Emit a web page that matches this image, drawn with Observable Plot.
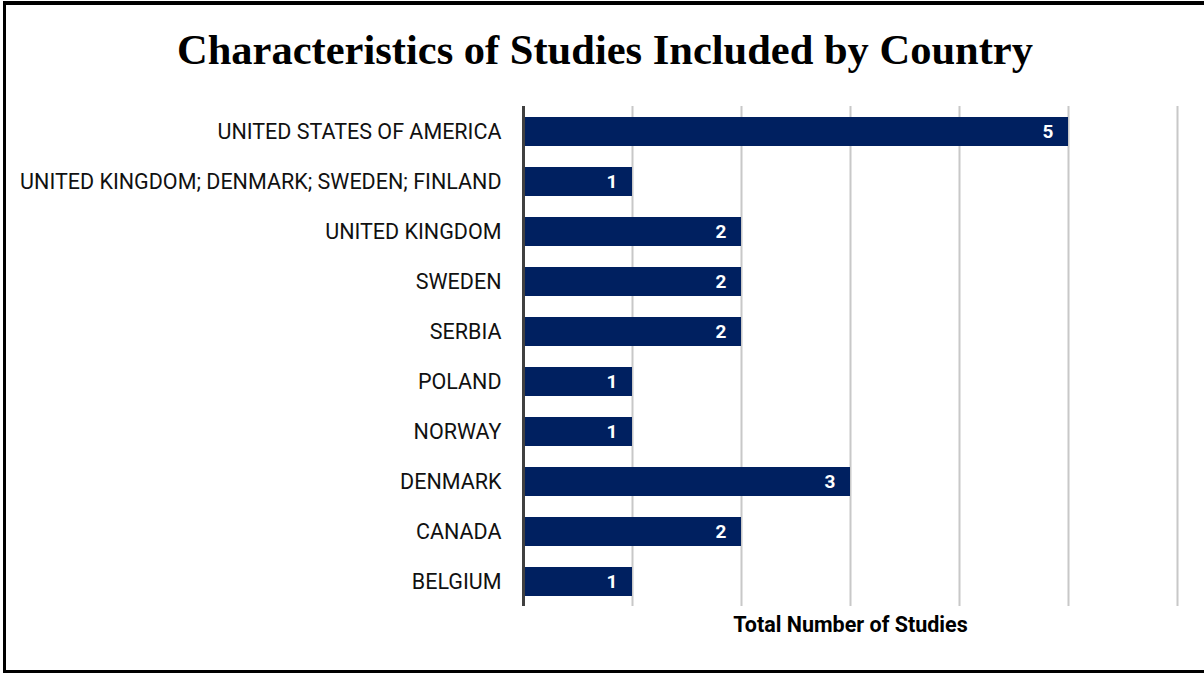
<!DOCTYPE html>
<html><head><meta charset="utf-8">
<script src="https://cdn.jsdelivr.net/npm/d3@7"></script>
<script src="https://cdn.jsdelivr.net/npm/@observablehq/plot@0.6"></script>
<style>
html,body{margin:0;padding:0;background:#fff;}
#frame{position:absolute;left:3px;top:1px;width:1201px;height:665px;border-left:3px solid #000;border-top:4px solid #000;border-bottom:3px solid #000;box-sizing:content-box;}
#title{position:absolute;left:0;top:25px;width:1210px;text-align:center;font-family:"Liberation Serif","Times New Roman",serif;font-weight:bold;font-size:42.5px;color:#000;line-height:50px;}
#chart{position:absolute;left:0;top:100px;}
</style></head>
<body>
<div id="frame"></div>
<div id="title">Characteristics of Studies Included by Country</div>
<div id="chart"></div>
<script>
const countries = ["UNITED STATES OF AMERICA","UNITED KINGDOM; DENMARK; SWEDEN; FINLAND","UNITED KINGDOM","SWEDEN","SERBIA","POLAND","NORWAY","DENMARK","CANADA","BELGIUM"];
const studies = [5,1,2,2,2,1,1,3,2,1];
const xTicks = [0,1,2,3,4,5,6];
const xLabel = "Total Number of Studies";

const data = countries.map((c,i)=>({country:c, n:studies[i]}));
const font = "Roboto, 'Noto Sans', sans-serif";
const chart = Plot.plot({
  width:1204, height:565,
  marginLeft:523, marginRight:27, marginTop:6, marginBottom:59,
  style:{fontFamily:font, fontSize:"18px", color:"#000", background:"transparent"},
  x:{domain:[0,6], ticks:xTicks, axis:null},
  y:{domain:countries, paddingInner:0.42, paddingOuter:0.21, axis:null},
  marks:[
    Plot.ruleX(xTicks.slice(1), {stroke:"#c8c8c8", strokeWidth:2}),
    Plot.barX(data, {x:"n", y:"country", fill:"#002060"}),
    Plot.ruleX([0], {stroke:"#404040", strokeWidth:3}),
    Plot.axisY({tickSize:0, tickPadding:22, fontSize:21.5, fill:"#111", label:null}),
    Plot.text(data, {x:"n", y:"country", text:d=>String(d.n), textAnchor:"end", dx:-15, fill:"#fff", fontWeight:"bold", fontSize:19}),
    Plot.text([xLabel], {x:3, frameAnchor:"bottom", dy:25, text:d=>d, fontWeight:"bold", fontSize:21.5, fill:"#000"})
  ]
});
document.getElementById("chart").appendChild(chart);
</script>
</body></html>
